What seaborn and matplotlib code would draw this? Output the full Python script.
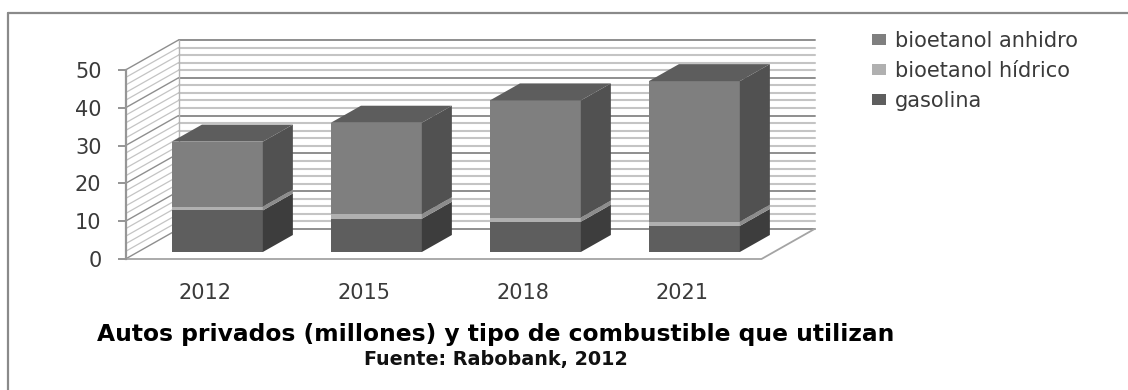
import numpy as np
import pandas as pd
import matplotlib
matplotlib.use("Agg")
import matplotlib.pyplot as plt
import seaborn as sns
from matplotlib.lines import Line2D
from matplotlib.patches import Polygon
from matplotlib.transforms import Affine2D

# Private cars in millions, by fuel type
years = ["2012", "2015", "2018", "2021"]
gasolina = [11.0, 8.8, 8.0, 6.9]
bioetanol_hidrico = [1.0, 1.2, 1.1, 1.1]
bioetanol_anhidro = [17.2, 24.2, 31.0, 37.2]
series_labels = ["bioetanol anhidro", "bioetanol hídrico", "gasolina"]
y_ticks = [0, 10, 20, 30, 40, 50]
minor_levels = [v for v in range(0, 51, 2) if v % 10]
title_text = "Autos privados (millones) y tipo de combustible que utilizan"
source_text = "Fuente: Rabobank, 2012"

W, H = 1128, 390
FRONT_FACE = {"gasolina": "#5e5e5e", "hidrico": "#b0b0b0", "anhidro": "#7f7f7f"}
SIDE_FACE = {"gasolina": "#3d3d3d", "hidrico": "#8c8c8c", "anhidro": "#515151"}
TOP_FACE = "#5d5d5d"

# Pseudo-3D depth: how far one full unit of depth shifts a point, in data units
DEPTH_X = 53 / 159
DEPTH_Y = 30 / 3.78
BAR_FRONT, BAR_BACK = 0.233, 0.80
BAR_WIDTH = 0.572


def pt(x, v, d):
    return (x + DEPTH_X * d, v + DEPTH_Y * d)


sns.set_theme(style="white")
plt.rcParams["font.family"] = ["DejaVu Sans"]

fig = plt.figure(figsize=(W / 100, H / 100), dpi=100, facecolor="white")
ax = fig.add_axes([125.5 / W, 1 - 259 / H, 636 / W, 189 / H], facecolor="none")

df = pd.DataFrame({"year": years,
                   "gasolina": gasolina,
                   "hidrico": bioetanol_hidrico,
                   "anhidro": bioetanol_anhidro})
df["top_gas"] = df["gasolina"]
df["top_hid"] = df["top_gas"] + df["hidrico"]
df["top_anh"] = df["top_hid"] + df["anhidro"]

# Stacked fronts are painted tallest first, then slid back to the bars' depth plane
shift = Affine2D().translate(DEPTH_X * BAR_FRONT, DEPTH_Y * BAR_FRONT) + ax.transData
layers = [("top_anh", "anhidro", series_labels[0]),
          ("top_hid", "hidrico", series_labels[1]),
          ("top_gas", "gasolina", series_labels[2])]
for col, key, label in layers:
    before = len(ax.patches)
    sns.barplot(data=df, x="year", y=col, color=FRONT_FACE[key], saturation=1,
                width=BAR_WIDTH, ax=ax, label=label, linewidth=0, zorder=3)
    for patch in ax.patches[before:]:
        patch.set_transform(shift)

ax.set_xlim(-0.5, 3.5)
ax.set_ylim(0, 50)
ax.set_xlabel("")
ax.set_ylabel("")

# Left wall and back wall grid
for levels, color, wall_lw, back_lw in ((minor_levels, "#c4c4c4", 0.9, 1.5),
                                        (y_ticks, "#8e8e8e", 1.0, 1.4)):
    for v in levels:
        a, b, c = pt(-0.5, v, 0), pt(-0.5, v, 1), pt(3.5, v, 1)
        ax.plot([a[0], b[0]], [a[1], b[1]], color=color, lw=wall_lw,
                zorder=1, clip_on=False)
        ax.plot([b[0], c[0]], [b[1], c[1]], color=color, lw=back_lw,
                zorder=1, clip_on=False)
# Back-left corner and floor outline
corner_low, corner_high = pt(-0.5, 0, 1), pt(-0.5, 50, 1)
ax.plot([corner_low[0], corner_high[0]], [corner_low[1], corner_high[1]],
        color="#b4b4b4", lw=1.0, zorder=1, clip_on=False)
floor_a, floor_b, floor_c = pt(-0.5, 0, 0), pt(3.5, 0, 0), pt(3.5, 0, 1)
ax.plot([floor_a[0], floor_b[0], floor_c[0]], [floor_a[1], floor_b[1], floor_c[1]],
        color="#a4a4a4", lw=1.3, zorder=1.5, clip_on=False)

# Side and top faces of each column
for i in range(len(years)):
    right = i + BAR_WIDTH / 2
    left = i - BAR_WIDTH / 2
    levels = [0, df.top_gas[i], df.top_hid[i], df.top_anh[i]]
    for (low, high), key in zip(zip(levels[:-1], levels[1:]),
                                ["gasolina", "hidrico", "anhidro"]):
        ax.add_patch(Polygon([pt(right, low, BAR_FRONT), pt(right, low, BAR_BACK),
                              pt(right, high, BAR_BACK), pt(right, high, BAR_FRONT)],
                             closed=True, facecolor=SIDE_FACE[key], edgecolor="none",
                             zorder=3, clip_on=False))
    top = levels[-1]
    ax.add_patch(Polygon([pt(left, top, BAR_FRONT), pt(right, top, BAR_FRONT),
                          pt(right, top, BAR_BACK), pt(left, top, BAR_BACK)],
                         closed=True, facecolor=TOP_FACE, edgecolor="none",
                         zorder=3, clip_on=False))

# Axes styling
sns.despine(ax=ax, top=True, right=True, bottom=True, left=False)
ax.spines["left"].set_color("#969696")
ax.spines["left"].set_linewidth(1.6)
ax.set_yticks(y_ticks)
ax.tick_params(axis="y", length=5.8, width=1.3, color="#8c8c8c", pad=11.5,
               labelsize=15, labelcolor="#3a3a3a", left=True)
ax.tick_params(axis="x", length=0, pad=17, labelsize=15, labelcolor="#3a3a3a")

# Legend, top entry first
handles, labels = ax.get_legend_handles_labels()
ax.legend(handles, labels, loc="upper left", bbox_to_anchor=(872 / W, 1 - 31 / H),
          bbox_transform=fig.transFigure, frameon=False, fontsize=15,
          handlelength=0.65, handleheight=0.48, handletextpad=0.45,
          labelspacing=0.48, borderpad=0, borderaxespad=0, labelcolor="#3a3a3a")

fig.text(496 / W, 1 - 335 / H, title_text, ha="center", va="center",
         fontsize=16.85, fontweight="bold", color="black")
fig.text(496 / W, 1 - 359 / H, source_text, ha="center", va="center",
         fontsize=13.8, fontweight="bold", color="#111111")

# Partial frame around the chart
for xs, ys in (([8, 8], [H, 13]), ([8, W], [13, 13])):
    fig.add_artist(Line2D([x / W for x in xs], [1 - y / H for y in ys],
                          color="#8a8a8a", lw=1.6))

fig.savefig("out.png", dpi=100, facecolor="white")
